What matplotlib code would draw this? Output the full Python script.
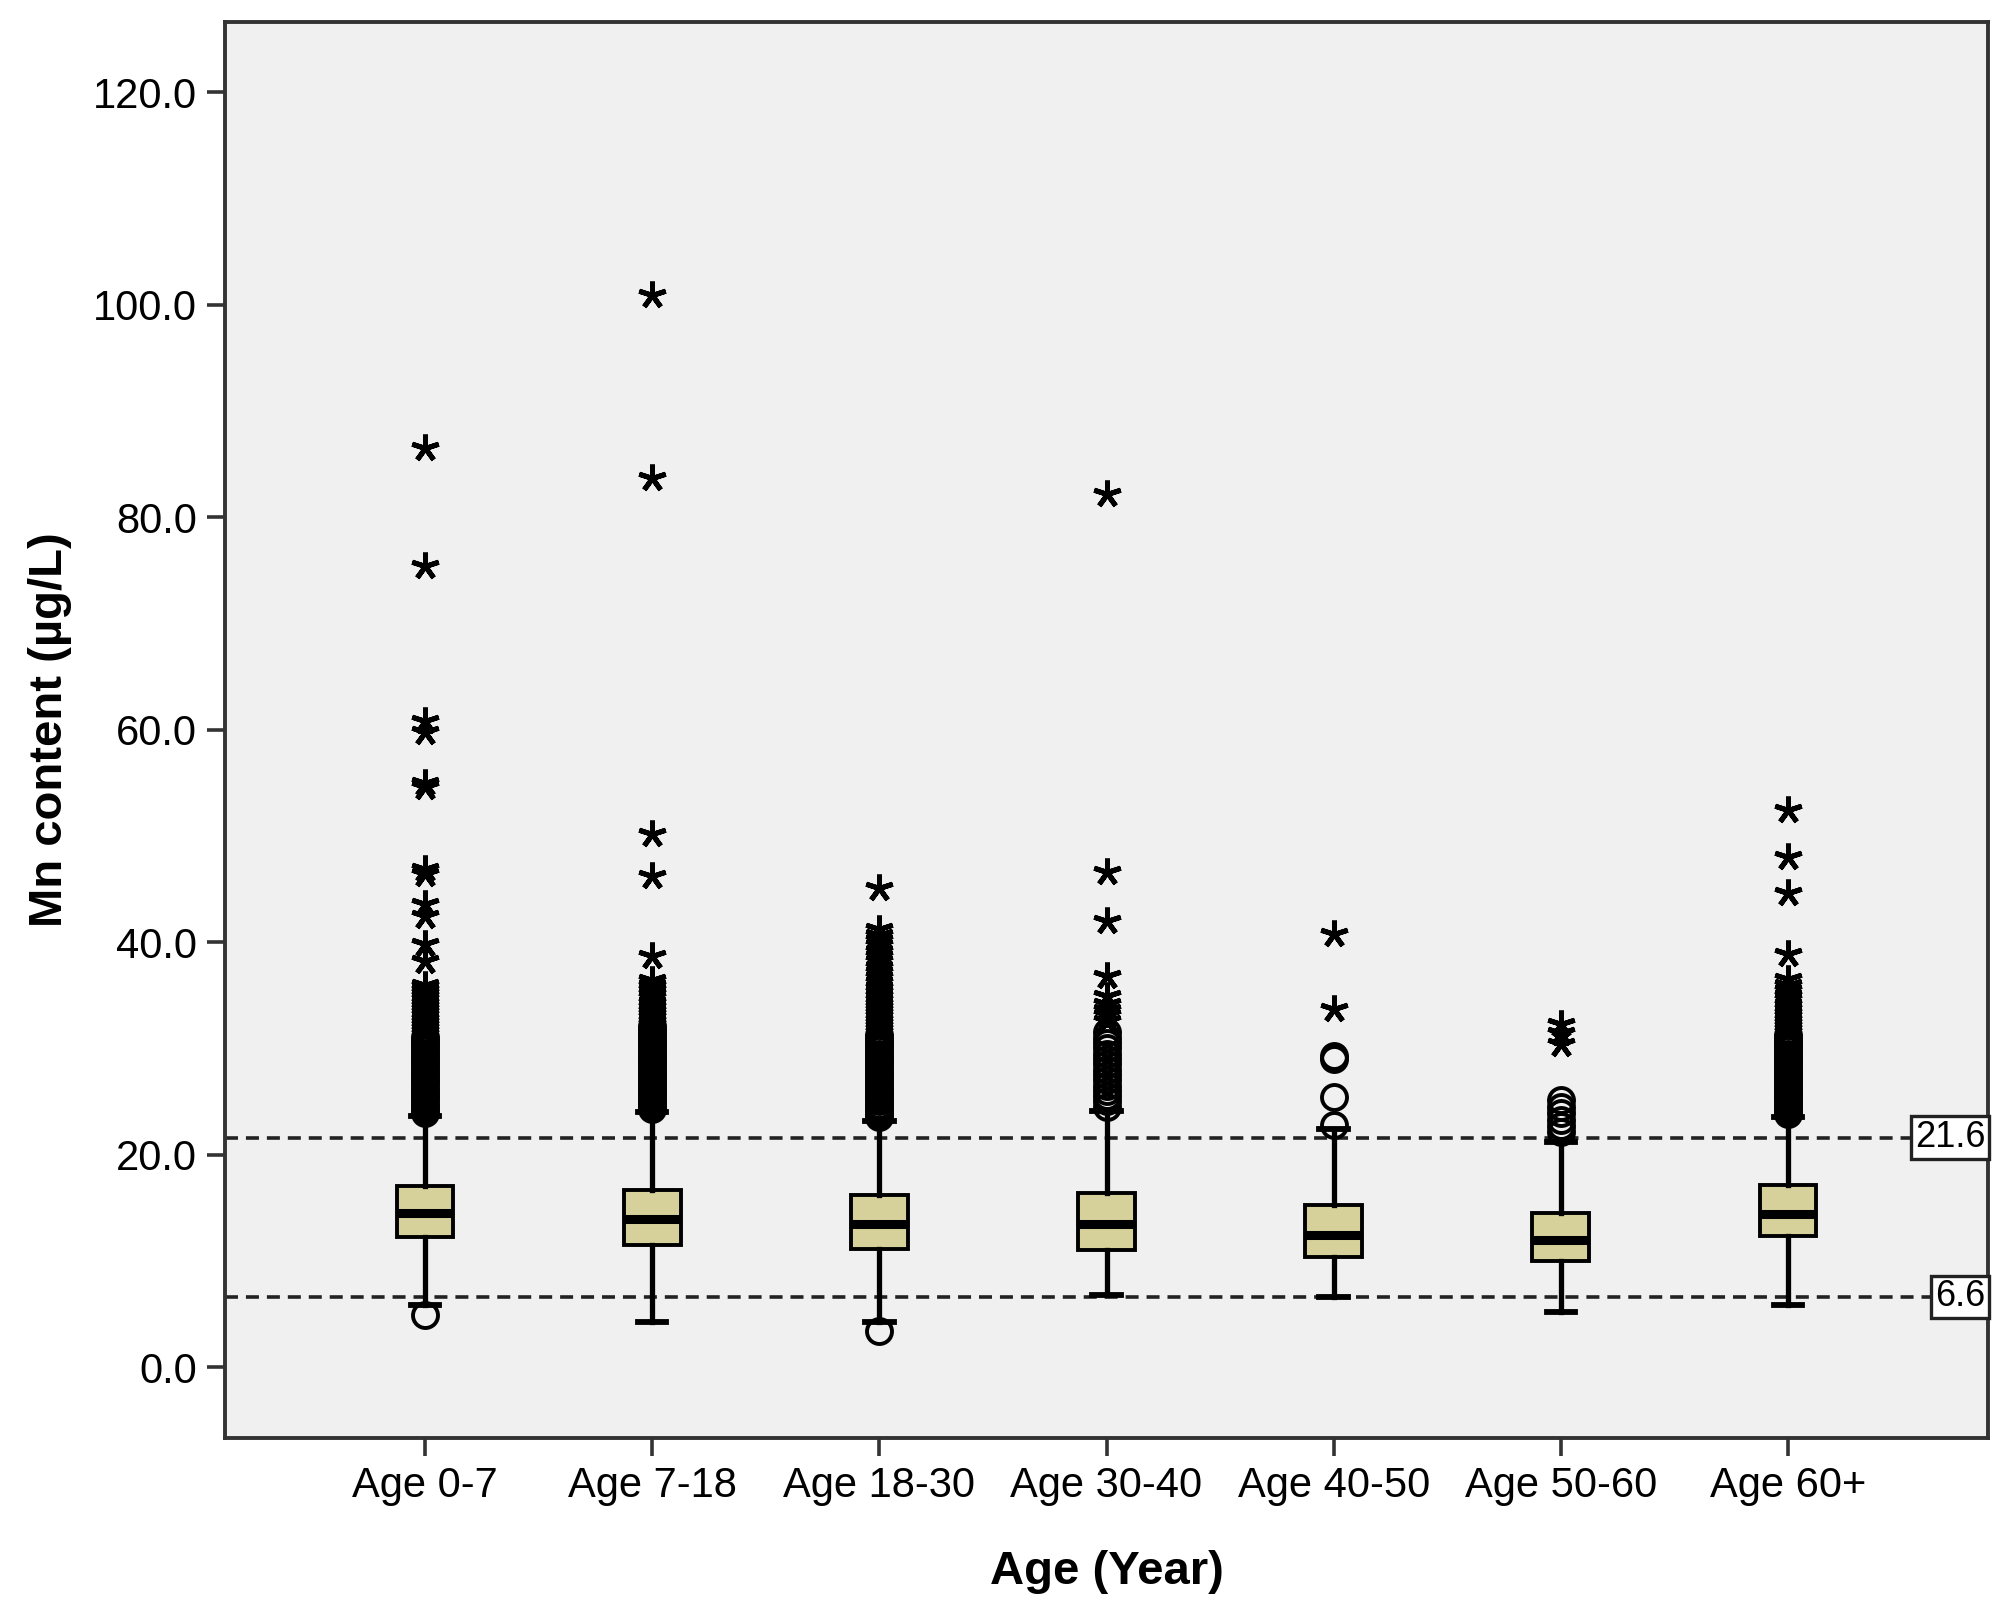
import matplotlib.pyplot as plt
from matplotlib import transforms

plt.rcParams['font.family'] = ['Liberation Sans', 'DejaVu Sans']
###############################################################################
# Data
###############################################################################
groups = ['Age 0-7', 'Age 7-18', 'Age 18-30', 'Age 30-40',
          'Age 40-50', 'Age 50-60', 'Age 60+']
q1 = [12.2, 11.5, 11.1, 11.0, 10.4, 10.0, 12.3]
med = [14.5, 13.9, 13.5, 13.5, 12.4, 12.0, 14.4]
q3 = [17.0, 16.7, 16.2, 16.4, 15.3, 14.5, 17.1]
whiskLo = [5.8, 4.2, 4.2, 6.8, 6.6, 5.2, 5.8]
whiskHi = [23.6, 24.0, 23.2, 24.1, 22.4, 21.2, 23.5]
# Outliers (circles: mild, stars: extreme) ------------------------------------
circ07 = [4.9, 23.9, 24.2, 24.5, 24.8, 25.1, 25.4, 25.7, 26.0, 26.3, 26.6,
          26.9, 27.2, 27.5, 27.8, 28.1, 28.4, 28.7, 29.0, 29.3, 29.6, 29.9,
          30.2, 30.5, 30.8, 31.1]
star07 = [31.4, 31.7, 32.0, 32.3, 32.6, 32.9, 33.2, 33.5, 33.8, 34.1, 34.4,
          34.7, 35.0, 35.3, 35.6, 36.0, 38.2, 39.8, 42.5, 43.6, 46.4, 46.9,
          54.6, 55.0, 59.8, 60.8, 75.4, 86.5]
circ718 = [24.3, 24.6, 24.9, 25.2, 25.5, 25.8, 26.1, 26.4, 26.7, 27.0, 27.3,
           27.6, 27.9, 28.2, 28.5, 28.8, 29.1, 29.4, 29.7, 30.0, 30.3, 30.6,
           30.9, 31.2, 31.5, 31.8, 32.1]
star718 = [32.4, 32.7, 33.0, 33.3, 33.6, 34.0, 34.4, 34.8, 35.2, 35.6, 36.0,
           36.4, 38.7, 46.2, 50.2, 83.7, 100.9]
circ1830 = [3.4, 23.5, 23.8, 24.1, 24.4, 24.7, 25.0, 25.3, 25.6, 25.9, 26.2,
            26.5, 26.8, 27.1, 27.4, 27.7, 28.0, 28.3, 28.6, 28.9, 29.2, 29.5,
            29.8, 30.1, 30.4, 30.7, 31.0, 31.3]
star1830 = [31.6, 31.9, 32.2, 32.5, 32.8, 33.1, 33.4, 33.7, 34.0, 34.3, 34.6,
            35.0, 35.4, 35.8, 36.2, 36.7, 37.2, 37.7, 38.2, 38.7, 39.2, 39.7,
            40.2, 40.7, 41.2, 45.1]
circ3040 = [24.5, 25.0, 25.5, 26.0, 26.5, 27.0, 27.5, 28.0, 28.5, 29.0, 29.5,
            30.0, 30.5, 31.0, 31.5]
star3040 = [32.6, 33.1, 33.6, 34.2, 34.9, 36.8, 42.0, 46.6, 82.2]
circ4050 = [22.8, 25.4, 29.0, 29.3]
star4050 = [33.7, 40.8]
circ5060 = [22.1, 22.7, 23.3, 23.9, 24.5, 25.1]
star5060 = [30.4, 31.4, 32.3]
circ60 = [23.8, 24.1, 24.4, 24.7, 25.0, 25.3, 25.6, 25.9, 26.2, 26.5, 26.8,
          27.1, 27.4, 27.7, 28.0, 28.3, 28.6, 28.9, 29.2, 29.5, 29.8, 30.1,
          30.4, 30.7, 31.0, 31.3]
star60 = [31.6, 31.9, 32.2, 32.5, 32.8, 33.1, 33.4, 33.8, 34.2, 34.6, 35.0,
          35.5, 36.0, 36.5, 38.9, 44.6, 48.0, 52.4]
circles = [circ07, circ718, circ1830, circ3040, circ4050, circ5060, circ60]
stars = [star07, star718, star1830, star3040, star4050, star5060, star60]
refLines = [21.6, 6.6]
###############################################################################
# Plot
###############################################################################
(boxColor, bgColor, spineColor) = ('#d6d19b', '#f0f0f0', '#333333')
fig = plt.figure(figsize=(20, 16.1), dpi=100)
ax = fig.add_axes([0.1125, 0.107, 0.8815, 0.8793])
ax.set_facecolor(bgColor)
ax.set_xlim(0.12, 7.88)
ax.set_ylim(-6.65, 126.6)
# Reference lines -------------------------------------------------------------
trans = transforms.blended_transform_factory(ax.transAxes, ax.transData)
for val in refLines:
    ax.axhline(val, color='#222222', lw=2.6, ls=(0, (3.6, 2.2)), zorder=1)
    ax.text(
            0.9985, val, '{:.1f}'.format(val), transform=trans,
            ha='right', va='center', fontsize=26, zorder=6,
            bbox=dict(boxstyle='square,pad=0.1', fc='white',
                      ec='#222222', lw=2.4)
        )
# Boxes -----------------------------------------------------------------------
stats = []
for i in range(len(groups)):
    stats.append({
            'med': med[i], 'q1': q1[i], 'q3': q3[i],
            'whislo': whiskLo[i], 'whishi': whiskHi[i], 'fliers': []
        })
pos = list(range(1, len(groups) + 1))
ax.bxp(
        stats, positions=pos, widths=0.25, patch_artist=True,
        showfliers=False, manage_ticks=False,
        boxprops=dict(facecolor=boxColor, edgecolor='black', lw=2.8),
        medianprops=dict(color='black', lw=6.5),
        whiskerprops=dict(color='black', lw=3.8),
        capprops=dict(color='black', lw=4.2),
        zorder=3
    )
# Outliers --------------------------------------------------------------------
for (i, p) in enumerate(pos):
    ax.plot(
            [p] * len(circles[i]), circles[i], ls='none', marker='o',
            ms=18, mfc='none', mec='black', mew=2.8, zorder=4
        )
    ax.plot(
            [p] * len(stars[i]), stars[i], ls='none', marker=(5, 2, 0),
            ms=20, mec='black', mew=3.6, zorder=4
        )
# Axes style ------------------------------------------------------------------
for sp in ax.spines.values():
    sp.set_color(spineColor)
    sp.set_linewidth(2.8)
ax.set_xticks(pos)
ax.set_xticklabels(groups)
ax.set_yticks([0, 20, 40, 60, 80, 100, 120])
ax.set_yticklabels(['{:.1f}'.format(v) for v in range(0, 121, 20)])
ax.tick_params(axis='both', direction='out', length=13, width=2.6,
               color=spineColor, labelsize=30, pad=7)
ax.set_xlabel('Age (Year)', fontsize=34, fontweight='bold', labelpad=32)
ax.set_ylabel('Mn content (µg/L)', fontsize=34, fontweight='bold',
              labelpad=15)
# Export ----------------------------------------------------------------------
fig.savefig('out.png', dpi=100, facecolor='white')
